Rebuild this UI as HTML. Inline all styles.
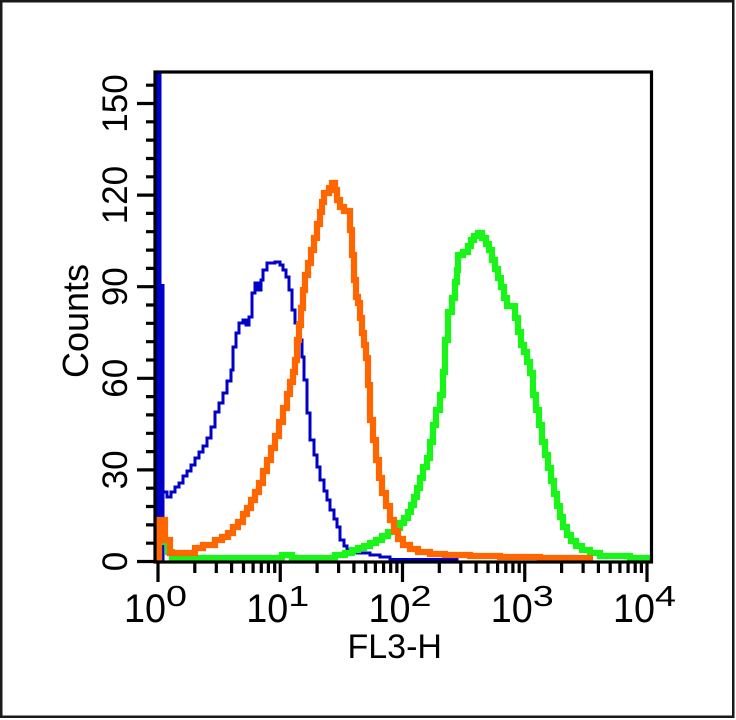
<!DOCTYPE html>
<html>
<head>
<meta charset="utf-8">
<style>
  html, body { margin: 0; padding: 0; background: #ffffff; }
  body { width: 736px; height: 720px; overflow: hidden; }
  svg { display: block; }
  text { font-family: "Liberation Sans", Arial, Helvetica, sans-serif; fill: #000; }
</style>
</head>
<body>
<svg width="736" height="720" viewBox="0 0 736 720" xmlns="http://www.w3.org/2000/svg">
  <rect x="0" y="0" width="736" height="720" fill="#ffffff"/>
  <!-- outer border -->
  <rect x="1.25" y="1.25" width="732" height="715.5" fill="none" stroke="#1a1a1a" stroke-width="2.5"/>

  <!-- blue series -->
  <rect x="156" y="72" width="5.5" height="490" fill="#0000c8"/>
  <rect x="156" y="284" width="8.5" height="278" fill="#0000c8"/>
  <path fill="none" stroke="#0000c8" stroke-width="3" stroke-linejoin="miter"
    d="M162,492 H167 V497 H171 V492 H175 V487 H179 V483 H183 V476 H187 V471 H191 V465 H195 V458 H199 V452 H203 V446 H207 V438 H211 V427 H215 V412 H219 V403 H223 V393 H227 V381 H231 V370 H233 V347 H236 V333 H239 V323 H243 V320 H246 V325 H249 V317 H252 V293 H255 V283 H258 V290 H261 V280 H263 V270 H267 V263 H275 V262 H280 V265 H283 V270 H286 V277 H289 V290 H292 V310 H295 V323 H299 V340 H302 V357 H304 V380 H307 V413 H310 V440 H314 V455 H317 V467 H320 V480 H324 V491 H327 V500 H330 V510 H334 V519 H337 V527 H340 V540 H344 V546 H347 V550 H357 V553 H370 V555 H380 V557 H390 V559.5 H457 V561.5"/>

  <!-- green series -->
  <path fill="none" stroke="#19f519" stroke-width="6.2" stroke-linejoin="miter"
    d="M159,561.5 V542 H168 V552 H172 V558 H282 V555 H292 V558 H335 V555 H345 V553 H352 V550 H358 V548 H364 V546 H370 V543 H376 V540 H382 V536 H388 V532 H394 V528 H400 V523 H404 V518 H408 V512 H411 V505 H414 V497 H417 V488 H420 V478 H423 V467 H427 V458 H430 V442 H433 V425 H436 V410 H440 V395 H443 V372 H445 V340 H448 V312 H452 V298 H455 V282 H457 V270 H458 V255 H463 V252 H468 V246 H471 V240 H474 V236 H478 V233 H482 V238 H486 V244 H489 V250 H492 V260 H495 V269 H498 V278 H501 V287 H504 V298 H507 V306 H515 V318 H518 V332 H521 V345 H524 V352 H527 V362 H530 V373 H533 V395 H536 V410 H539 V425 H542 V442 H545 V455 H548 V468 H551 V481 H554 V494 H557 V506 H560 V517 H563 V527 H567 V535 H571 V541 H576 V546 H582 V550 H590 V553 H600 V556 H630 V558 H650"/>

  <!-- orange series -->
  <path fill="none" stroke="#ff6600" stroke-width="6.2" stroke-linejoin="miter"
    d="M159,561.5 V520 H165 V540 H170 V553 H195 V548 H203 V545 H215 V540 H222 V537 H228 V533 H233 V527 H238 V522 H243 V514 H247 V508 H251 V500 H255 V492 H259 V483 H263 V471 H267 V460 H271 V448 H275 V436 H279 V422 H283 V408 H287 V394 H290 V382 H293 V372 H295 V360 H297 V340 H299 V325 H301 V308 H303 V290 H305 V275 H308 V263 H311 V250 H314 V238 H317 V224 H320 V212 H322 V202 H324 V193 H329 V188 H332 V183 H335 V190 H337 V200 H340 V207 H344 V211 H350 V230 H352 V255 H354 V280 H356 V297 H358 V303 H360 V318 H362 V333 H364 V345 H366 V358 H368 V385 H370 V420 H373 V440 H376 V460 H379 V478 H382 V493 H386 V506 H390 V520 H394 V531 H398 V539 H403 V545 H410 V549 H418 V552 H430 V554 H445 V555 H470 V556 H500 V557 H540 V558 H590 V561.5"/>

  <!-- plot frame -->
  <rect x="155" y="72" width="496.5" height="490" fill="none" stroke="#000" stroke-width="3.2"/>

  <!-- y ticks -->
  <path fill="none" stroke="#000" stroke-width="3.2"
    d="M137,561.5H155 M137,469.9H155 M137,378.3H155 M137,286.7H155 M137,195.1H155 M137,103.5H155"/>
  <path fill="none" stroke="#000" stroke-width="3.2"
    d="M146,543.2H155 M146,524.9H155 M146,506.5H155 M146,488.2H155 M146,451.6H155 M146,433.3H155 M146,414.9H155 M146,396.6H155 M146,360H155 M146,341.7H155 M146,323.3H155 M146,305H155 M146,268.4H155 M146,250.1H155 M146,231.7H155 M146,213.4H155 M146,176.8H155 M146,158.5H155 M146,140.1H155 M146,121.8H155 M146,85.2H155"/>

  <!-- x ticks -->
  <path fill="none" stroke="#000" stroke-width="3.2"
    d="M158,562V582 M280.25,562V582 M402.5,562V582 M524.75,562V582 M647,562V582"/>
  <path fill="none" stroke="#000" stroke-width="3.2"
    d="M194.8,562V573 M216.3,562V573 M231.6,562V573 M243.5,562V573 M253.1,562V573 M261.3,562V573 M268.4,562V573 M274.7,562V573
       M317.1,562V573 M338.6,562V573 M353.9,562V573 M365.7,562V573 M375.4,562V573 M383.6,562V573 M390.7,562V573 M396.9,562V573
       M439.3,562V573 M460.8,562V573 M476.1,562V573 M488,562V573 M497.6,562V573 M505.8,562V573 M512.9,562V573 M519.2,562V573
       M561.6,562V573 M583.1,562V573 M598.4,562V573 M610.2,562V573 M619.9,562V573 M628.1,562V573 M635.2,562V573 M641.4,562V573"/>

  <!-- y tick labels -->
  <g font-size="35">
    <text transform="translate(127,561.5) rotate(-90)" text-anchor="middle">0</text>
    <text transform="translate(127,469.9) rotate(-90)" text-anchor="middle">30</text>
    <text transform="translate(127,378.3) rotate(-90)" text-anchor="middle">60</text>
    <text transform="translate(127,286.7) rotate(-90)" text-anchor="middle">90</text>
    <text transform="translate(127,195.1) rotate(-90)" text-anchor="middle">120</text>
    <text transform="translate(127,103.5) rotate(-90)" text-anchor="middle">150</text>
  </g>

  <!-- y axis title -->
  <text transform="translate(88,321) rotate(-90)" text-anchor="middle" font-size="36">Counts</text>

  <!-- x tick labels -->
  <g>
    <text x="124" y="622" font-size="40" textLength="42" lengthAdjust="spacingAndGlyphs">10</text>
    <text x="166" y="606" font-size="29" textLength="21" lengthAdjust="spacingAndGlyphs">0</text>

    <text x="246.25" y="622" font-size="40" textLength="42" lengthAdjust="spacingAndGlyphs">10</text>
    <text x="288.25" y="606" font-size="29" textLength="21" lengthAdjust="spacingAndGlyphs">1</text>

    <text x="368.5" y="622" font-size="40" textLength="42" lengthAdjust="spacingAndGlyphs">10</text>
    <text x="410.5" y="606" font-size="29" textLength="21" lengthAdjust="spacingAndGlyphs">2</text>

    <text x="490.75" y="622" font-size="40" textLength="42" lengthAdjust="spacingAndGlyphs">10</text>
    <text x="532.75" y="606" font-size="29" textLength="21" lengthAdjust="spacingAndGlyphs">3</text>

    <text x="613" y="622" font-size="40" textLength="42" lengthAdjust="spacingAndGlyphs">10</text>
    <text x="655" y="606" font-size="29" textLength="21" lengthAdjust="spacingAndGlyphs">4</text>
  </g>

  <!-- x axis title -->
  <text x="347.5" y="658" font-size="34">FL3-H</text>
</svg>
</body>
</html>
